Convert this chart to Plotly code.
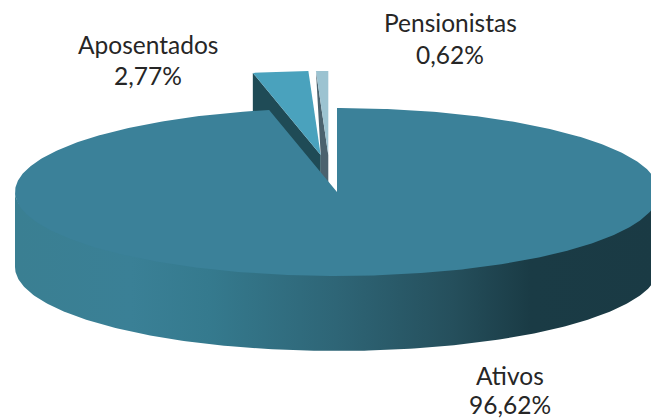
import math
import numpy as np
import plotly.graph_objects as go

# Data
categories = ["Ativos", "Aposentados", "Pensionistas"]
values = [96.62, 2.77, 0.62]
value_labels = ["96,62%", "2,77%", "0,62%"]

W, H = 651, 419
CX, CY, RX, RY, DEPTH = 337, 192, 322, 84, 75
MAIN = "#3b8199"
APOS = "#4aa2bd"
PENS = "#9cc3d1"
APOS_WALL = "#1f4b56"
PENS_WALL = "#4b626e"
explode = {"Aposentados": (-16.3, -37), "Pensionistas": (-8.7, -37)}

total = 100.0
fracs = [v / total for v in values]
starts = [0.0, fracs[0], fracs[0] + fracs[1]]


def pt(frac, dx=0, dy=0, ry=RY):
    a = 2 * math.pi * frac
    return CX + dx + RX * math.sin(a), CY + dy - ry * math.cos(a)


def arc(f0, f1, dx=0, dy=0, n=240, ry=RY):
    n = max(int(abs(f1 - f0) * n) + 2, 3)
    return [pt(f, dx, dy, ry) for f in np.linspace(f0, f1, n)]


def poly(points, color=None, **kw):
    xs = [p[0] for p in points] + [points[0][0]]
    ys = [p[1] for p in points] + [points[0][1]]
    return go.Scatter(
        x=xs, y=ys, mode="lines", line=dict(width=0), fill="toself",
        fillcolor=color, hoverinfo="skip", showlegend=False, **kw
    )


fig = go.Figure()

# Exploded slices: walls and top faces
a_dx, a_dy = explode["Aposentados"]
p_dx, p_dy = explode["Pensionistas"]
a_apex = (CX + a_dx, CY + a_dy)
p_apex = (CX + p_dx, CY + p_dy)
a_left = pt(starts[1], a_dx, a_dy)
p_left = pt(starts[2], p_dx, p_dy)

fig.add_trace(poly([p_left, a_apex, (a_apex[0], a_apex[1] + DEPTH),
                    (p_apex[0], p_apex[1] + DEPTH), p_apex], PENS_WALL))
fig.add_trace(poly([p_apex] + arc(starts[2], 1.0, p_dx, p_dy), PENS))
fig.add_trace(poly([a_left, a_apex, (a_apex[0], a_apex[1] + DEPTH),
                    (a_left[0], a_left[1] + DEPTH)], APOS_WALL))
fig.add_trace(poly([a_apex] + arc(starts[1], starts[2], a_dx, a_dy), APOS))

# Main slice side wall with horizontal gradient (upper edge tucked under the top face)
front_top = arc(0.75, 0.25, n=480, ry=RY * 0.9)
front_bot = [(x, y + DEPTH) for x, y in reversed(arc(0.75, 0.25, n=480))]
fig.add_trace(poly(
    front_top + front_bot,
    fillgradient=dict(
        type="horizontal", start=15, stop=659,
        colorscale=[
            [0.00, "#3a7f92"], [0.18, "#3a8096"], [0.30, "#357a8e"],
            [0.50, "#2e6576"], [0.68, "#254f5c"], [0.80, "#1a3b45"],
            [1.00, "#1a3a44"],
        ],
    ),
))

# Main slice top face
fig.add_trace(poly([(CX, CY)] + arc(0.0, fracs[0], n=600), MAIN))

# Labels
label_pos = {
    "Ativos": (510, 375, 404),
    "Aposentados": (148, 44, 75),
    "Pensionistas": (450, 22, 54),
}
for cat, lab in zip(categories, value_labels):
    x, y1, y2 = label_pos[cat]
    for txt, y in ((cat, y1), (lab, y2)):
        fig.add_annotation(
            x=x, y=y, xref="x", yref="y", text=txt, showarrow=False,
            xanchor="center", yanchor="middle",
            font=dict(family="Lato", size=24.5, color="#262626"),
        )

fig.update_layout(
    width=W, height=H, autosize=False,
    margin=dict(l=0, r=0, t=0, b=0),
    paper_bgcolor="white", plot_bgcolor="white", showlegend=False,
    xaxis=dict(range=[0, W], visible=False, fixedrange=True),
    yaxis=dict(range=[H, 0], visible=False, fixedrange=True),
)
fig.write_html(
    "out.html",
    config=dict(displayModeBar=False),
    post_script="document.body.style.margin='0';document.body.style.overflow='hidden';",
)
